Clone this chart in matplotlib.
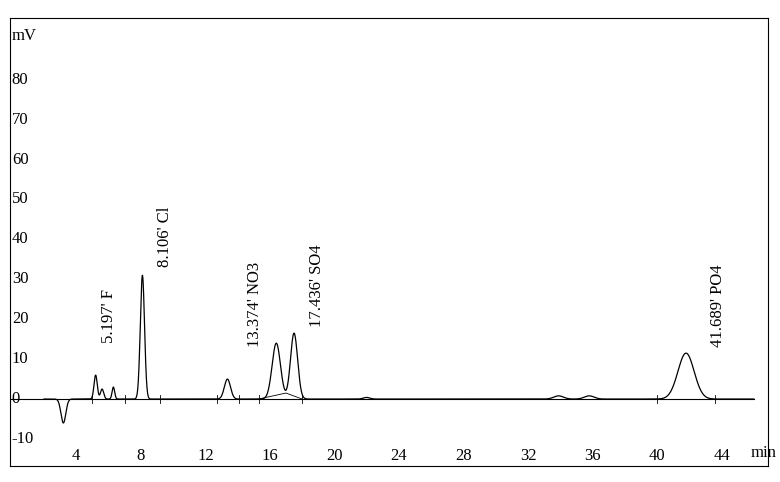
import numpy as np
import matplotlib
matplotlib.use("Agg")
import matplotlib.pyplot as plt

plt.rcParams['font.family'] = ['Liberation Serif', 'DejaVu Serif']

# peaks: retention time (min), height (mV), width sigma (min)
peak_times = [3.2, 5.2, 5.6, 6.3, 8.1, 13.37, 16.4, 17.5, 22.0, 33.9, 35.8, 41.8]
peak_heights = [-6.0, 6.0, 2.5, 3.0, 31.0, 5.0, 14.0, 16.5, 0.4, 0.8, 0.8, 11.5]
peak_widths = [0.15, 0.1, 0.1, 0.08, 0.13, 0.19, 0.26, 0.22, 0.2, 0.3, 0.3, 0.5]
labels = ["5.197' F", "8.106' Cl", "13.374' NO3", "17.436' SO4", "41.689' PO4"]
label_x = [6.5, 10.0, 15.6, 19.4, 44.3]
label_y = [14, 33, 13, 18, 13]
marker_x = [5.0, 7.0, 9.2, 12.7, 14.1, 15.3, 18.0, 40.0, 43.6]
xticks = [4, 8, 12, 16, 20, 24, 28, 32, 36, 40, 44]
yticks = [-10, 0, 10, 20, 30, 40, 50, 60, 70, 80]

t = np.linspace(2.0, 46.0, 6000)
y = np.zeros_like(t)
for c, h, w in zip(peak_times, peak_heights, peak_widths):
    y += h * np.exp(-0.5 * ((t - c) / w) ** 2)

fig = plt.figure(figsize=(7.8, 4.82), dpi=100)
ax = fig.add_axes([0.013, 0.033, 0.972, 0.93])
ax.set_xlim(-0.1, 46.9)
ax.set_ylim(-16.8, 95.5)
ax.axhline(0, color='black', lw=0.8, xmax=(46.0 + 0.1) / 47.0)
ax.plot(t, y, color='black', lw=0.9)
# baseline humps under 16-18 peaks
hx = [15.3, 17.0, 18.0]
hy = [0, 1.5, 0]
ax.plot(hx, hy, color='black', lw=0.6)
for mx in marker_x:
    ax.plot([mx, mx], [-1, 1], color='black', lw=0.6)
for lx, ly, lb in zip(label_x, label_y, labels):
    ax.text(lx, ly, lb, rotation=90, fontsize=12, ha='right', va='bottom')
ax.set_xticks([])
ax.set_yticks([])
for xv in xticks:
    ax.text(xv, -14.2, str(xv), ha='center', va='center', fontsize=12)
for yv in yticks:
    ax.text(0.0, yv, str(yv), ha='left', va='center', fontsize=12)
ax.text(0.0, 91, 'mV', ha='left', va='center', fontsize=12)
ax.text(45.8, -13.5, 'min', ha='left', va='center', fontsize=12)
fig.savefig('out.png')
